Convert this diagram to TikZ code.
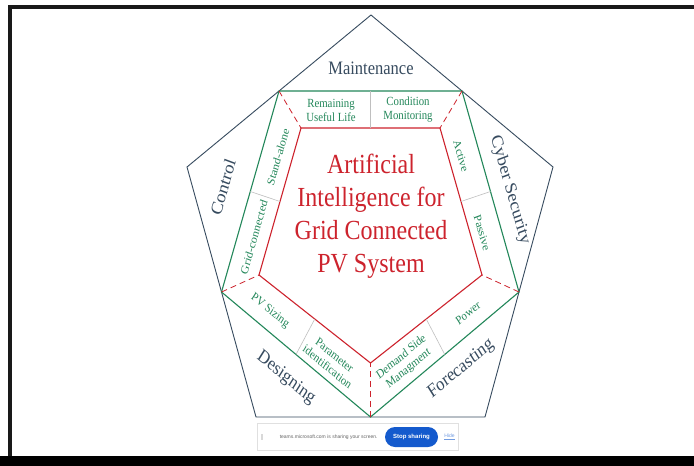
\documentclass[tikz,border=0pt]{standalone}
\usepackage{fontspec}
\setmainfont{Liberation Serif}
\newfontfamily\barfont{Liberation Sans}
\usetikzlibrary{calc, positioning}
\definecolor{slate}{RGB}{55,75,95}
\definecolor{leaf}{RGB}{35,135,90}
\definecolor{brick}{RGB}{205,35,45}
\definecolor{teamsblue}{RGB}{20,90,205}
\tikzset{
  outerline/.style={draw=slate, line width=0.9pt},
  middleline/.style={draw=leaf, line width=1.1pt},
  innerline/.style={draw=brick, line width=1.1pt},
  link/.style={draw=brick, line width=0.8pt, dash pattern=on 6pt off 4pt},
  divider/.style={draw=black!25, line width=0.6pt},
  area/.style={
    text=slate, yscale=1.15, inner sep=0pt,
    font=\fontsize{16.5}{19}\selectfont
  },
  topic/.style={
    text=leaf, yscale=1.15, inner sep=0pt, align=center,
    font=\fontsize{10.8}{12.2}\selectfont
  },
  title/.style={
    text=brick, yscale=1.15, inner sep=0pt, align=center,
    font=\fontsize{24}{28.7}\selectfont
  }
}

\begin{document}
\begin{tikzpicture}[x=1pt, y=-1pt]

    % Fond et cadre
    \useasboundingbox (0,0) rectangle (694,466);
    \fill[white] (0,0) rectangle (694,466);
    \fill[black!90] (8,5) rectangle (694,8.5);
    \fill[black!90] (8,5) rectangle (12,456);
    \fill[black] (0,456) rectangle (694,466);

    % Pentagone extérieur
    \coordinate (o1) at (371,15);
    \coordinate (o2) at (553,167);
    \coordinate (o3) at (485,417);
    \coordinate (o4) at (256,417);
    \coordinate (o5) at (187,167);
    \draw[outerline] (o1) -- (o2) -- (o3) -- (o4) -- (o5) -- cycle;

    % Pentagone vert
    \coordinate (g1) at ($(o1)!0.5!(o5)$);
    \coordinate (g2) at ($(o1)!0.5!(o2)$);
    \coordinate (g3) at ($(o2)!0.5!(o3)$);
    \coordinate (g4) at ($(o3)!0.5!(o4)$);
    \coordinate (g5) at ($(o4)!0.5!(o5)$);
    \draw[middleline] (g1) -- (g2) -- (g3) -- (g4) -- (g5) -- cycle;

    % Pentagone rouge
    \coordinate (r1) at (301,128);
    \coordinate (r2) at (440,128);
    \coordinate (r3) at (482,275);
    \coordinate (r4) at (370.5,363);
    \coordinate (r5) at (259,275);
    \draw[innerline] (r1) -- (r2) -- (r3) -- (r4) -- (r5) -- cycle;

    % Liaisons et séparations
    \foreach \i in {1,...,5}
        \draw[link] (g\i) -- (r\i);
    \foreach \a/\b in {1/2,2/3,3/4,4/5,5/1}
        \draw[divider] ($(g\a)!0.5!(g\b)$) -- ($(r\a)!0.5!(r\b)$);

    % Domaines
    \node[area] (maint) at (371,68) {Maintenance};
    \node[area, rotate=72] (control) at (223,187) {Control};
    \node[area, rotate=-72] (cyber) at (510,190) {Cyber Security};
    \node[area, rotate=-36] (design) at (286,378) {Designing};
    \node[area, rotate=36] (forecast) at (461,369) {Forecasting};

    % Sous-domaines
    \node[topic] (rul) at (331,110) {Remaining\\Useful Life};
    \node[topic] (condition) at (408,110) {Condition\\Monitoring};
    \node[topic, rotate=72] (standalone) at (278,157) {Stand-alone};
    \node[topic, rotate=72] (gridcon) at (254,237) {Grid-connected};
    \node[topic, rotate=-72] (active) at (461,156) {Active};
    \node[topic, rotate=-72] (passive) at (482,233) {Passive};
    \node[topic, rotate=-36] (sizing) at (270,311) {PV Sizing};
    \node[topic, rotate=-36] (param) at (331,361) {Parameter\\identification};
    \node[topic, rotate=36] (demand) at (405,363) {Demand Side\\Managment};
    \node[topic, rotate=36] (power) at (468,313) {Power};

    % Titre
    \node[title] (ai) at (371,216) {Artificial\\Intelligence for\\Grid Connected\\PV System};

    % Barre de partage
    \node[draw=black!12, fill=white, minimum width=201pt, minimum height=27pt, inner sep=0pt] (bar) at (357.5,436.5) {};
    \node[fill=teamsblue, rounded corners=10pt, minimum width=53pt, minimum height=20pt, inner sep=0pt,
          text=white, font=\barfont\bfseries\fontsize{6}{7}\selectfont] (stop) at (411.5,437) {Stop sharing};
    \node[anchor=east, inner sep=0pt, text=black!60, font=\barfont\fontsize{5}{6}\selectfont]
          (msg) at ([xshift=-7pt]stop.west) {teams.microsoft.com is sharing your screen.};
    \node[right=6pt of stop, inner sep=0pt, text=teamsblue!60, font=\barfont\fontsize{5}{6}\selectfont] (hide) {\underline{Hide}};
    \node[fill=black!15, minimum width=1.5pt, minimum height=6pt, inner sep=0pt] (icon) at (262,437) {};

\end{tikzpicture}
\end{document}
